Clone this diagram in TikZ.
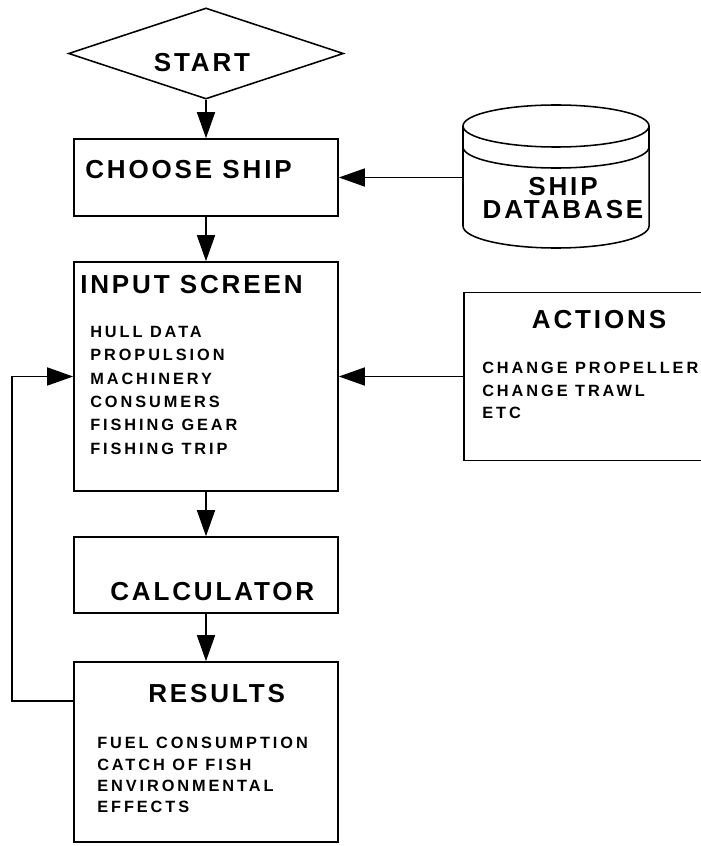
\documentclass[tikz,border=0pt]{standalone}
\usepackage{fontspec}
\newfontfamily\ttlfont{Liberation Sans}[LetterSpace=11]
\newfontfamily\itmfont{Liberation Sans}[LetterSpace=18]
\usetikzlibrary{arrows.meta,shapes.geometric}
\tikzset{
  fbox/.style={draw=black,line width=1.1pt,inner sep=0pt},
  fttl/.style={font=\ttlfont\bfseries\fontsize{18.5}{16.4}\selectfont,inner sep=0pt,align=center},
  fitm/.style={font=\itmfont\bfseries\fontsize{11.6}{16.6}\selectfont,inner sep=0pt,align=left,anchor=north west},
  farr/.style={-{Triangle[length=0.65cm,width=0.45cm]},line width=1.1pt},
  fline/.style={line width=1.1pt}
}

\begin{document}
\begin{tikzpicture}[x=0.025cm,y=-0.025cm]
  \useasboundingbox (0,0) rectangle (700,846);
  % main column
  \node[fbox,diamond,minimum width=6.875cm,minimum height=2.275cm] (start) at (206,53.5) {};
  \node[fttl] (starttxt) at (202,63) {START};
  \node[fbox,minimum width=6.6cm,minimum height=1.925cm] (choose) at (206,177.5) {};
  \node[fttl,anchor=west] (choosetxt) at (85,170) {CHOOSE SHIP};
  \node[fbox,minimum width=6.6cm,minimum height=5.725cm] (input) at (206,376.5) {};
  \node[fttl,anchor=west] (inputtxt) at (80,285) {INPUT SCREEN};
  \node[fitm] (inputitm) at (90,326) {HULL DATA\\PROPULSION\\MACHINERY\\CONSUMERS\\FISHING GEAR\\FISHING TRIP};
  \node[fbox,minimum width=6.6cm,minimum height=1.9cm] (calc) at (206,575) {};
  \node[fttl,anchor=west] (calctxt) at (110,592) {CALCULATOR};
  \node[fbox,minimum width=6.6cm,minimum height=4.5cm] (results) at (206,752) {};
  \node[fttl,anchor=west] (resultstxt) at (148,694) {RESULTS};
  \node[fitm,font=\itmfont\bfseries\fontsize{11.6}{15.2}\selectfont] (resultsitm) at (97,737) {FUEL CONSUMPTION\\CATCH OF FISH\\ENVIRONMENTAL\\EFFECTS};
  % right column
  \draw[fline] (556,126) ellipse [x radius=2.325cm,y radius=0.525cm];
  \draw[fline] (463,147) arc[start angle=180,end angle=360,x radius=2.325cm,y radius=0.525cm];
  \draw[fline] (463,126) -- (463,226) arc[start angle=180,end angle=360,x radius=2.325cm,y radius=0.55cm] -- (649,126);
  \node[fttl] (db) at (563,198.5) {SHIP\\DATABASE};
  \coordinate (dbw) at (463,177.5);
  \node[fbox,minimum width=5.95cm,minimum height=4.2cm] (actions) at (583,376.5) {};
  \node[fttl] (actionstxt) at (599,320) {ACTIONS};
  \node[fitm,font=\itmfont\bfseries\fontsize{11.6}{16}\selectfont] (actionsitm) at (482,362) {CHANGE PROPELLER\\CHANGE TRAWL\\ETC};
  % connectors
  \coordinate (back) at (12,701);
  \draw[farr] (start.south) -- (choose.north);
  \draw[farr] (dbw) -- (choose.east);
  \draw[farr] (choose.south) -- (input.north);
  \draw[farr] (actions.west) -- (input.east);
  \draw[farr] (input.south) -- (calc.north);
  \draw[farr] (calc.south) -- (results.north);
  \draw[farr] (results.west |- back) -- (back) |- (input.west);
\end{tikzpicture}
\end{document}
